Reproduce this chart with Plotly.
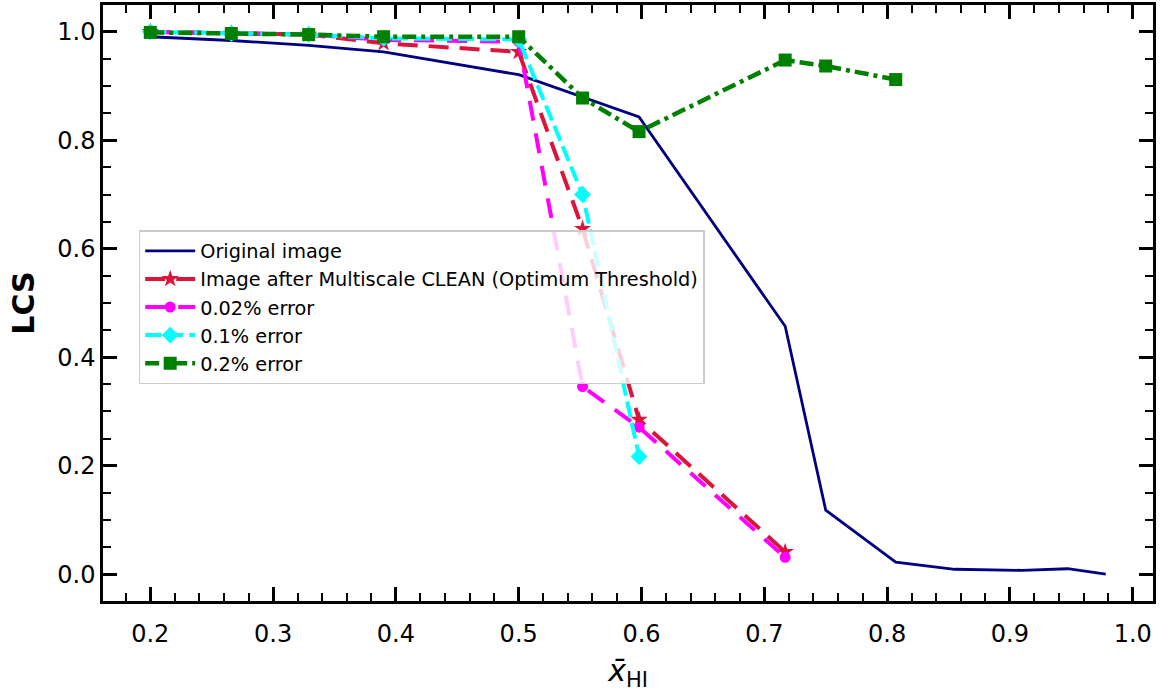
import plotly.graph_objects as go

# x positions (neutral fraction)
x_common = [0.2, 0.266, 0.329, 0.39, 0.5, 0.552, 0.598, 0.717]
x_green = [0.2, 0.266, 0.329, 0.39, 0.5, 0.552, 0.598, 0.717, 0.75, 0.807]
x_orig = [0.2, 0.266, 0.329, 0.39, 0.5, 0.598, 0.717, 0.75, 0.807, 0.855, 0.91, 0.947, 0.978]

y_orig = [0.991, 0.984, 0.975, 0.963, 0.921, 0.843, 0.457, 0.118, 0.022, 0.009, 0.007, 0.010, 0.0]
y_clean = [1.0, 0.997, 0.995, 0.979, 0.963, 0.637, 0.285, 0.041]
y_e002 = [1.0, 0.997, 0.995, 0.985, 0.982, 0.346, 0.271, 0.031]
x_e01 = [0.2, 0.266, 0.329, 0.39, 0.5, 0.552, 0.598]
y_e01 = [1.0, 0.997, 0.995, 0.988, 0.986, 0.700, 0.217]
y_e02 = [0.999, 0.997, 0.995, 0.991, 0.991, 0.878, 0.816, 0.948, 0.937, 0.912]

names = ["Original image",
         "Image after Multiscale CLEAN (Optimum Threshold)",
         "0.02% error", "0.1% error", "0.2% error"]

x_ticks = [0.2, 0.3, 0.4, 0.5, 0.6, 0.7, 0.8, 0.9, 1.0]
y_ticks = [0.0, 0.2, 0.4, 0.6, 0.8, 1.0]

FONT = "DejaVu Sans"

fig = go.Figure()
fig.add_trace(go.Scatter(x=x_orig, y=y_orig, mode="lines", name=names[0],
                         line=dict(color="#000080", width=2.8)))
fig.add_trace(go.Scatter(x=x_common, y=y_clean, mode="lines+markers", name=names[1],
                         line=dict(color="#DC143C", width=4, dash="20px,11px"),
                         marker=dict(symbol="star", size=13, color="#DC143C")))
fig.add_trace(go.Scatter(x=x_common, y=y_e002, mode="lines+markers", name=names[2],
                         line=dict(color="#FF00FF", width=4, dash="20px,13px"),
                         marker=dict(symbol="circle", size=11, color="#FF00FF")))
fig.add_trace(go.Scatter(x=x_e01, y=y_e01, mode="lines+markers", name=names[3],
                         line=dict(color="#00FFFF", width=4, dash="16px,6px"),
                         marker=dict(symbol="diamond", size=13, color="#00FFFF")))
fig.add_trace(go.Scatter(x=x_green, y=y_e02, mode="lines+markers", name=names[4],
                         line=dict(color="#008000", width=4.5, dash="14px,5px,4px,5px"),
                         marker=dict(symbol="square", size=13, color="#008000")))

axis_common = dict(
    showline=True, linecolor="black", linewidth=2.5, mirror="allticks",
    ticks="inside", ticklen=14, tickwidth=2.5, tickcolor="black",
    showgrid=False, zeroline=False, automargin=False,
    tickfont=dict(family=FONT, size=24, color="black"),
)

fig.update_xaxes(range=[0.1615, 1.0165], tickvals=x_ticks,
                 ticktext=[f"{v:.1f}" for v in x_ticks],
                 ticklabelstandoff=9,
                 minor=dict(ticks="inside", ticklen=8, tickwidth=1.8, dtick=0.02,
                            tick0=0, tickcolor="black", showgrid=False),
                 title=dict(text="<i>x̄</i><sub>HI</sub>", font=dict(family=FONT, size=30, color="black"),
                            standoff=14),
                 **axis_common)
fig.update_yaxes(range=[-0.0495, 1.0495], tickvals=y_ticks,
                 ticktext=[f"{v:.1f}" for v in y_ticks],
                 minor=dict(ticks="inside", ticklen=8, tickwidth=1.8, dtick=0.05,
                            tick0=0, tickcolor="black", showgrid=False),
                 title=dict(text="<b>LCS</b>", font=dict(family=FONT, size=30, color="black"),
                            standoff=14),
                 **axis_common)

fig.update_layout(
    width=1170, height=693,
    margin=dict(l=103, r=17, t=5, b=92),
    paper_bgcolor="white", plot_bgcolor="white",
    font=dict(family=FONT, color="black"),
    legend=dict(x=0.034, y=0.622, xanchor="left", yanchor="top",
                bgcolor="rgba(255,255,255,0.8)", bordercolor="#cccccc", borderwidth=1.5,
                font=dict(family=FONT, size=19.3, color="black"), itemwidth=50),
    showlegend=True,
)

fig.write_html("out.html", config={"displayModeBar": False},
               post_script="document.body.style.margin='0';")
